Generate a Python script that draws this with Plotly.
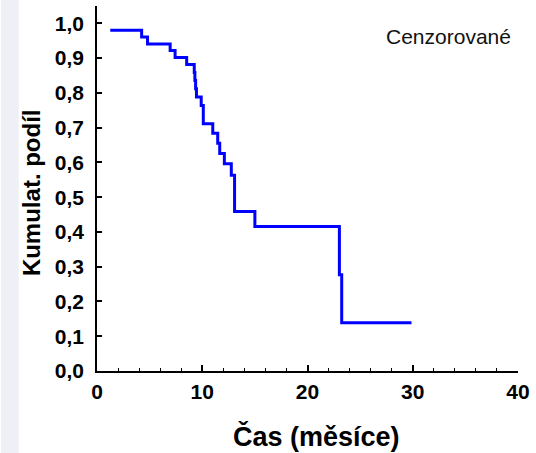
import plotly.graph_objects as go

# Kaplan-Meier style step data (time in months, cumulative proportion)
times = [1.26, 4.24, 4.8, 6.95, 7.42, 8.52, 9.24, 9.3, 9.37, 9.45, 9.9, 10.1,
         11.0, 11.47, 11.66, 12.1, 12.76, 13.07, 15.0, 23.03, 23.25, 29.88]
surv = [0.98, 0.961, 0.941, 0.922, 0.902, 0.882, 0.859, 0.836, 0.812, 0.788, 0.764, 0.711,
        0.684, 0.655, 0.626, 0.596, 0.563, 0.459, 0.416, 0.277, 0.139, 0.139]

x_title = "Čas (měsíce)"
y_title = "Kumulat. podíl"
legend_text = "Cenzorované"

W, H = 536, 453
ML, MR, MT, MB = 97, 14, 6, 82
PW, PH = W - ML - MR, H - MT - MB


def px(x):
    return (x - ML) / PW


def py(y):
    return (H - MB - y) / PH


fig = go.Figure()
fig.add_trace(go.Scatter(
    x=times, y=surv, mode="lines", line=dict(color="#0000FF", width=3, shape="hv"),
    showlegend=False, hoverinfo="skip"))

fig.add_shape(type="rect", xref="paper", yref="paper",
              x0=px(0), x1=px(18), y0=py(H), y1=py(0),
              fillcolor="#EEF0F6", line=dict(width=0), layer="below")

FONT = "Liberation Sans"
fig.add_annotation(text=legend_text, xref="paper", yref="paper",
                   x=px(451.5), y=py(36), showarrow=False,
                   font=dict(family=FONT, size=21, color="#111"),
                   xanchor="center", yanchor="middle")
fig.add_annotation(text=x_title, xref="paper", yref="paper",
                   x=px(319), y=py(436), showarrow=False,
                   font=dict(family=FONT, size=27, color="black", weight="bold"),
                   xanchor="center", yanchor="middle")
fig.add_annotation(text=y_title, xref="paper", yref="paper",
                   x=px(31), y=py(192.5), showarrow=False, textangle=-90,
                   font=dict(family=FONT, size=24, color="black", weight="bold"),
                   xanchor="center", yanchor="middle")

bold = dict(family=FONT, size=21, color="black", weight="bold")
fig.update_layout(
    width=W, height=H, margin=dict(l=ML, r=MR, t=MT, b=MB),
    plot_bgcolor="white", paper_bgcolor="white", separators=", ",
    xaxis=dict(range=[0, 40], dtick=10, tick0=0, ticks="inside", ticklen=6, tickwidth=1.5,
               tickcolor="black", showline=True, linecolor="black", linewidth=1.5,
               showgrid=False, zeroline=False, tickfont=bold, ticklabelstandoff=1,
               minor=dict(dtick=2, ticks="inside", ticklen=3, tickcolor="black", tickwidth=1)),
    yaxis=dict(range=[0, 1.05], dtick=0.1, tick0=0, tickformat=".1f", ticks="inside",
               ticklen=5, tickwidth=1.5, tickcolor="black", showline=True, linecolor="black",
               linewidth=1.5, showgrid=False, zeroline=False, tickfont=bold,
               ticklabelstandoff=7),
)

fig.write_html("out.html", config={"displayModeBar": False},
               post_script="document.body.style.margin='0';document.body.style.padding='0';")
